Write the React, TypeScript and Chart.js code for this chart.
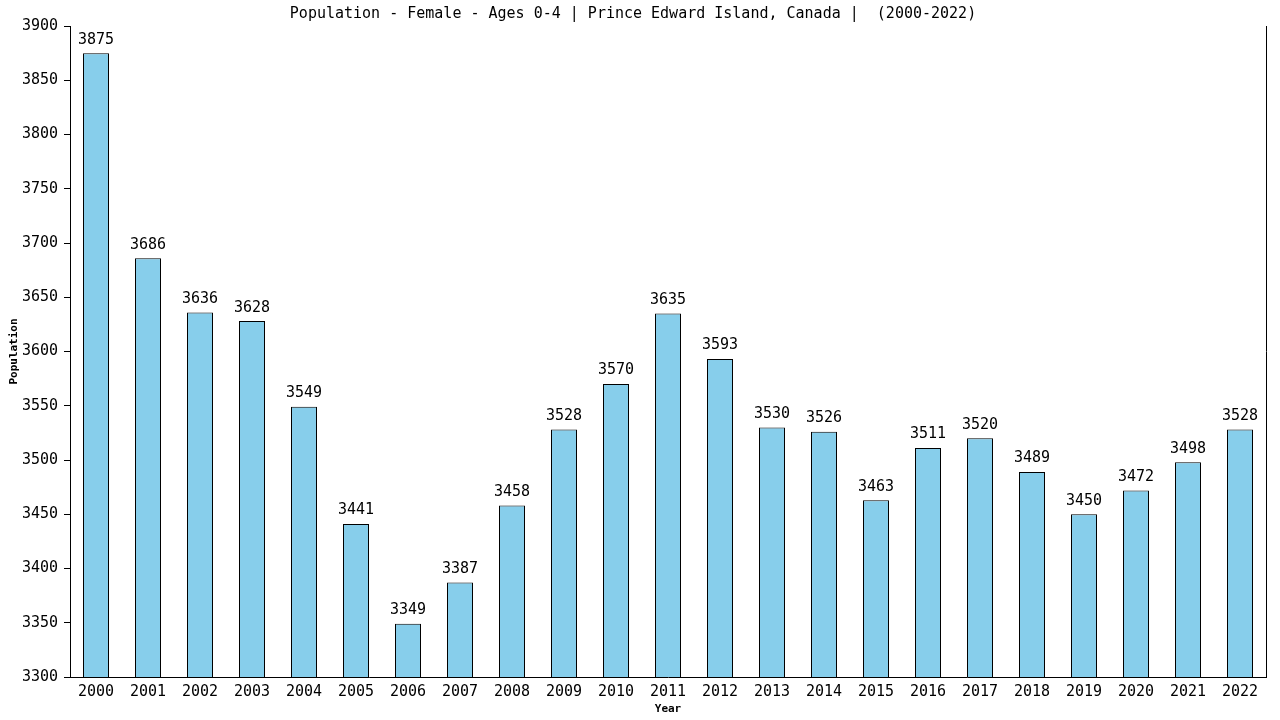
import { useEffect, useRef } from 'react';
import { Chart, registerables } from 'chart.js';

Chart.register(...registerables);

const years = [
  '2000', '2001', '2002', '2003', '2004', '2005', '2006', '2007', '2008', '2009', '2010', '2011',
  '2012', '2013', '2014', '2015', '2016', '2017', '2018', '2019', '2020', '2021', '2022',
];
const population = [
  3875, 3686, 3636, 3628, 3549, 3441, 3349, 3387, 3458, 3528, 3570, 3635,
  3593, 3530, 3526, 3463, 3511, 3520, 3489, 3450, 3472, 3498, 3528,
];
const titleText = 'Population - Female - Ages 0-4 | Prince Edward Island, Canada |  (2000-2022)';

const MONO = '"DejaVu Sans Mono", monospace';

// value labels over each bar + right frame line
const barLabels = {
  id: 'barLabels',
  afterDatasetsDraw(chart) {
    const { ctx, chartArea } = chart;
    ctx.save();
    ctx.font = `15px ${MONO}`;
    ctx.fillStyle = '#000';
    ctx.textAlign = 'center';
    ctx.textBaseline = 'bottom';
    chart.getDatasetMeta(0).data.forEach((bar, i) => {
      ctx.fillText(String(population[i]), bar.x, bar.y - 6);
    });
    ctx.strokeStyle = '#000';
    ctx.lineWidth = 1;
    ctx.beginPath();
    ctx.moveTo(Math.round(chartArea.right) + 0.5, chartArea.top);
    ctx.lineTo(Math.round(chartArea.right) + 0.5, chartArea.bottom);
    ctx.stroke();
    ctx.restore();
  },
};

export default function App() {
  const chartRef = useRef(null);
  const chartInstance = useRef(null);

  useEffect(() => {
    if (chartInstance.current) chartInstance.current.destroy();
    const ctx = chartRef.current.getContext('2d');

    chartInstance.current = new Chart(ctx, {
      type: 'bar',
      data: {
        labels: years,
        datasets: [{
          label: 'Population',
          data: population,
          backgroundColor: '#87CEEB',
          borderColor: '#000',
          borderWidth: 1,
          barPercentage: 0.5,
          categoryPercentage: 1,
        }],
      },
      options: {
        animation: false,
        responsive: false,
        layout: { padding: { right: 14, left: 0, top: 0, bottom: 0 } },
        plugins: {
          legend: { display: false },
          tooltip: { enabled: false },
          title: {
            display: true,
            text: titleText,
            color: '#000',
            font: { family: MONO, size: 15, weight: 'normal' },
            padding: { top: 5, bottom: 3 },
          },
        },
        scales: {
          x: {
            grid: { display: false, drawTicks: false, tickLength: 0 },
            border: { display: true, color: '#000', width: 1 },
            ticks: { color: '#000', font: { family: MONO, size: 15 }, padding: 6, maxRotation: 0 },
            title: {
              display: true,
              text: 'Year',
              color: '#000',
              font: { family: MONO, size: 11, weight: 'bold' },
              padding: { top: 0, bottom: 4 },
            },
            afterFit(scale) { scale.height = 43; },
          },
          y: {
            min: 3300,
            max: 3900,
            ticks: {
              stepSize: 50,
              color: '#000',
              font: { family: MONO, size: 15 },
              padding: 6,
              callback: (v) => String(v),
            },
            grid: { drawOnChartArea: false, color: '#000', tickLength: 6 },
            border: { display: true, color: '#000', width: 1 },
            title: {
              display: true,
              text: 'Population',
              color: '#000',
              font: { family: MONO, size: 11, weight: 'bold' },
              padding: { top: 8, bottom: 0 },
            },
            afterFit(scale) { scale.width = 70; },
          },
        },
      },
      plugins: [barLabels],
    });

    return () => {
      if (chartInstance.current) chartInstance.current.destroy();
    };
  }, []);

  return (
    <div style={{ position: 'fixed', left: 0, top: 0, width: 1280, height: 720, background: '#fff' }}>
      <canvas ref={chartRef} width={1280} height={720}></canvas>
    </div>
  );
}
